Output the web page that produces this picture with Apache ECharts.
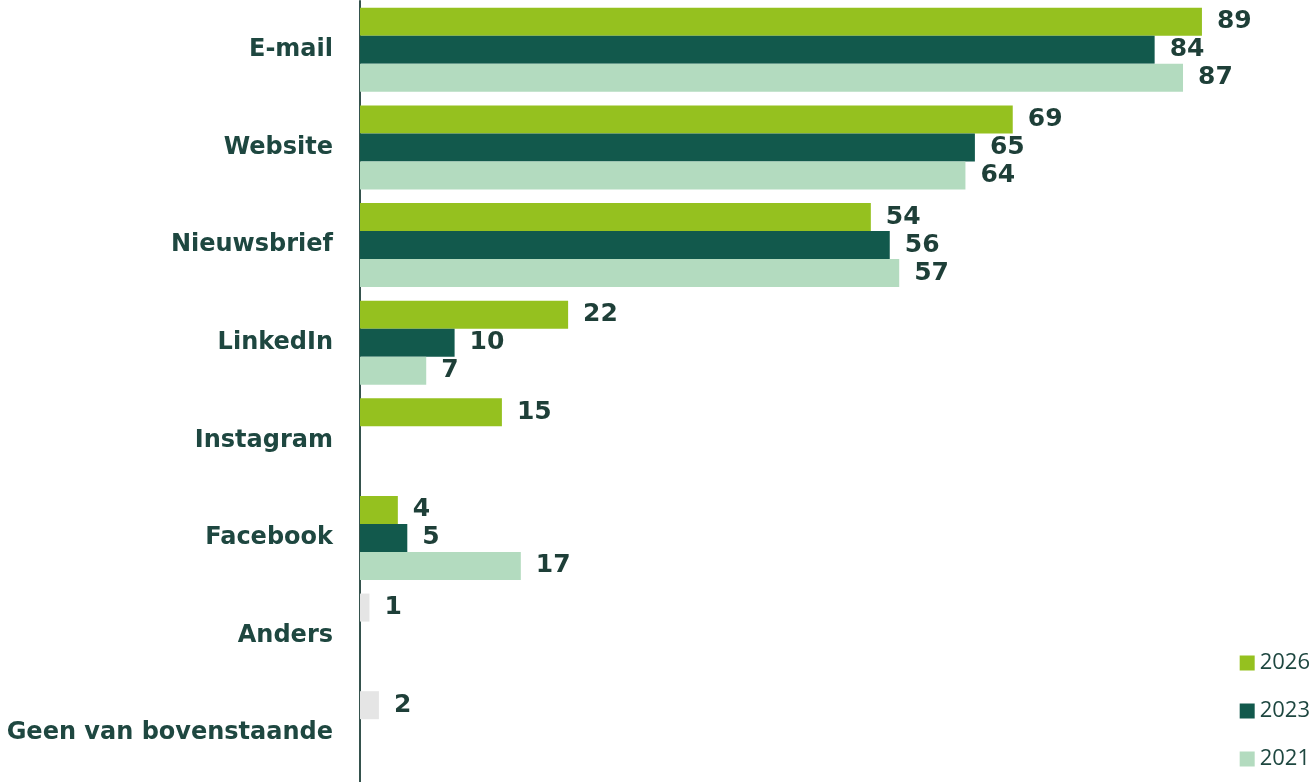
<!DOCTYPE html>
<html><head><meta charset="utf-8">
<script src="https://cdn.jsdelivr.net/npm/echarts@6/dist/echarts.min.js"></script>
<style>html,body{margin:0;padding:0;background:#fff}#c{width:1311px;height:782px}</style>
</head><body><div id="c"></div>
<script>
const categories = ['E-mail','Website','Nieuwsbrief','LinkedIn','Instagram','Facebook','Anders','Geen van bovenstaande'];
const years = ['2026','2023','2021'];
const v2026 = [89,69,54,22,15,4,1,2];
const v2023 = [84,65,56,10,null,5,null,null];
const v2021 = [87,64,57,7,null,17,null,null];
const grayCats = ['Anders','Geen van bovenstaande'];
const colors = ['#95C11F','#12594C','#B3DBBF'];
const gray = '#E5E5E5';

const chart = echarts.init(document.getElementById('c'));
const label = {show:true, position:'right', distance:15, color:'#1E3F38', fontFamily:'DejaVu Sans', fontWeight:'bold', fontSize:25, padding:[3,0,0,0]};
function mk(name, vals, color, i){
  return {name, type:'bar', barWidth:28, barGap:'0%', data: vals.map((v,k)=>{
    if (v===null) return null;
    if (i===0 && grayCats.includes(categories[k])) return {value:v, itemStyle:{color:gray}};
    return v;
  }), itemStyle:{color}, label};
}
chart.setOption({
  animation:false,
  grid:{left:360, right:5, top:1, bottom:0, containLabel:false},
  legend:{orient:'vertical', right:1, bottom:12, padding:0, itemWidth:15, itemHeight:15, itemGap:26, icon:'rect',
    textStyle:{fontFamily:'Open Sans', fontSize:22, color:'#1E4740'}, data:years},
  xAxis:{type:'value', min:0, max:100, show:false},
  yAxis:{type:'category', data:categories, inverse:true,
    axisLine:{show:true, lineStyle:{color:'#35524D', width:2}}, axisTick:{show:false},
    axisLabel:{margin:27, fontFamily:'DejaVu Sans', fontWeight:'bold', fontSize:24, color:'#1E4740', padding:[3,0,0,0]}},
  series:[mk('2026',v2026,colors[0],0), mk('2023',v2023,colors[1],1), mk('2021',v2021,colors[2],2)]
});
</script></body></html>
